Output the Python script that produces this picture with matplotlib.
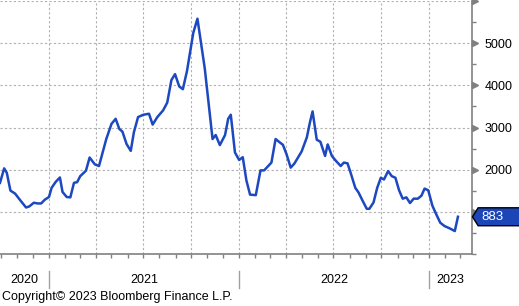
import matplotlib
matplotlib.use("Agg")
import matplotlib.pyplot as plt
import matplotlib.dates as mdates
import matplotlib.transforms as mtransforms
from matplotlib.patches import Polygon
import pandas as pd

plt.rcParams["font.family"] = ["Liberation Sans", "DejaVu Sans"]

dates = [
    "2020-09-29", "2020-10-07", "2020-10-12", "2020-10-19", "2020-10-28", "2020-11-06",
    "2020-11-18", "2020-11-24", "2020-12-03", "2020-12-10", "2020-12-17", "2020-12-24",
    "2021-01-01", "2021-01-06", "2021-01-14", "2021-01-22", "2021-01-27", "2021-02-04",
    "2021-02-11", "2021-02-18", "2021-02-24", "2021-03-02", "2021-03-13", "2021-03-20",
    "2021-03-30", "2021-04-07", "2021-04-21", "2021-05-01", "2021-05-09", "2021-05-16",
    "2021-05-22", "2021-05-30", "2021-06-07", "2021-06-13", "2021-06-21", "2021-07-01",
    "2021-07-12", "2021-07-19", "2021-07-28", "2021-08-08", "2021-08-16", "2021-08-24",
    "2021-08-31", "2021-09-08", "2021-09-15", "2021-09-23", "2021-10-05", "2021-10-13",
    "2021-10-27", "2021-11-11", "2021-11-17", "2021-11-25", "2021-12-05", "2021-12-11",
    "2021-12-16", "2021-12-24", "2022-01-01", "2022-01-08", "2022-01-15", "2022-01-22",
    "2022-02-02", "2022-02-11", "2022-02-18", "2022-03-04", "2022-03-12", "2022-03-20",
    "2022-03-26", "2022-04-02", "2022-04-10", "2022-04-17", "2022-05-01", "2022-05-11",
    "2022-05-17", "2022-05-22", "2022-05-30", "2022-06-06", "2022-06-15", "2022-06-20",
    "2022-06-28", "2022-07-06", "2022-07-15", "2022-07-21", "2022-07-28", "2022-08-03",
    "2022-08-12", "2022-08-18", "2022-08-26", "2022-09-03", "2022-09-08", "2022-09-16",
    "2022-09-23", "2022-09-30", "2022-10-06", "2022-10-14", "2022-10-21", "2022-10-28",
    "2022-11-04", "2022-11-11", "2022-11-18", "2022-11-25", "2022-12-02", "2022-12-10",
    "2022-12-17", "2022-12-23", "2022-12-30", "2023-01-07", "2023-01-14", "2023-01-22",
    "2023-01-30", "2023-02-09", "2023-02-19", "2023-02-25",
]
values = [
    1688, 2031, 1928, 1504, 1432, 1288,
    1103, 1127, 1216, 1199, 1199, 1288,
    1352, 1568, 1712, 1815, 1472, 1352,
    1343, 1688, 1703, 1846, 1976, 2288,
    2127, 2086, 2727, 3086, 3206, 2966,
    2902, 2607, 2446, 2887, 3247, 3302,
    3326, 3069, 3247, 3405, 3590, 4125,
    4266, 3974, 3909, 4345, 5245, 5580,
    4405, 2727, 2822, 2583, 2822, 3206,
    3302, 2408, 2230, 2295, 1743, 1408,
    1396, 1983, 1983, 2168, 2727, 2647,
    2590, 2367, 2048, 2144, 2432, 2767,
    3127, 3381, 2710, 2662, 2326, 2599,
    2326, 2206, 2086, 2168, 2151, 1928,
    1568, 1463, 1264, 1072, 1072, 1223,
    1568, 1808, 1767, 1966, 1846, 1808,
    1511, 1312, 1343, 1209, 1312, 1312,
    1384, 1551, 1511, 1144, 952, 743,
    664, 609, 544, 883,
]
years = [2020, 2021, 2022, 2023]
last_value = 883

dates = pd.to_datetime(dates)
line_color = "#1c48c0"
grey = "#808080"

fig = plt.figure(figsize=(5.19, 3.06), dpi=100)
ax = fig.add_axes([0, 52 / 306, 472 / 519, 253 / 306])

ax.plot(dates, values, color=line_color, lw=1.8, solid_joinstyle="round", zorder=3)

x0 = pd.Timestamp("2020-09-29")
x1 = pd.Timestamp("2023-03-24")
ax.set_xlim(x0, x1)
ax.set_ylim(0, 6000)

# grid
for q in pd.date_range("2021-01-01", "2023-01-01", freq="QS"):
    ax.axvline(q, color="#b0b0b0", lw=0.8, ls=(0, (2, 2)), zorder=1)
for v in range(1000, 7000, 1000):
    ax.axhline(v, color="#b0b0b0", lw=0.8, ls=(0, (2, 2)), zorder=1)

# spines
for s in ["left", "top"]:
    ax.spines[s].set_visible(False)
for s in ["right", "bottom"]:
    ax.spines[s].set_color(grey)
    ax.spines[s].set_linewidth(1.2)

# y axis on the right
ax.yaxis.tick_right()
ax.set_yticks(range(1000, 7000, 1000))
ax.set_yticklabels(["", "2000", "3000", "4000", "5000", ""])
ax.set_yticks(range(0, 6000, 500), minor=True)
ax.tick_params(axis="y", which="major", length=0, pad=9, labelsize=9)
ax.tick_params(axis="y", which="minor", length=3, width=1, color=grey, direction="out")
ytrans = ax.get_yaxis_transform()
ax.plot([1.007] * 6, range(1000, 7000, 1000), marker=">", ms=5, color=grey,
        ls="none", transform=ytrans, clip_on=False, zorder=4)

# x axis: monthly minor ticks, year labels below
ax.xaxis.set_major_locator(mdates.YearLocator())
ax.xaxis.set_minor_locator(mdates.MonthLocator())
ax.tick_params(axis="x", which="both", length=3, width=1, color=grey, labelbottom=False)
xtrans = mtransforms.blended_transform_factory(ax.transData, ax.transAxes)
for yr in years:
    start = max(pd.Timestamp(f"{yr}-01-01"), x0)
    end = min(pd.Timestamp(f"{yr + 1}-01-01"), x1)
    mid = start + (end - start) / 2
    ax.text(mid, -0.103, str(yr), transform=xtrans, ha="center", va="center", fontsize=9)
    if yr > years[0]:
        ax.plot([pd.Timestamp(f"{yr}-01-01")] * 2, [-0.067, -0.135], color="#a0a0a0",
                lw=1, transform=xtrans, clip_on=False)

# last value tag
h = 213
tag = Polygon([[1.001, last_value], [1.013, last_value + h], [1.12, last_value + h],
               [1.12, last_value - h], [1.013, last_value - h]],
              closed=True, facecolor="#1c45b8", edgecolor="black", lw=1,
              transform=ytrans, clip_on=False, zorder=5)
ax.add_patch(tag)
ax.text(1.02, last_value, str(last_value), transform=ytrans, color="white",
        fontsize=9.5, va="center", ha="left", zorder=6)

fig.text(2 / 519, 1 - 297 / 306, "Copyright\u00a9 2023 Bloomberg Finance L.P.",
         fontsize=9, ha="left", va="center")

fig.savefig("out.png", dpi=100)
